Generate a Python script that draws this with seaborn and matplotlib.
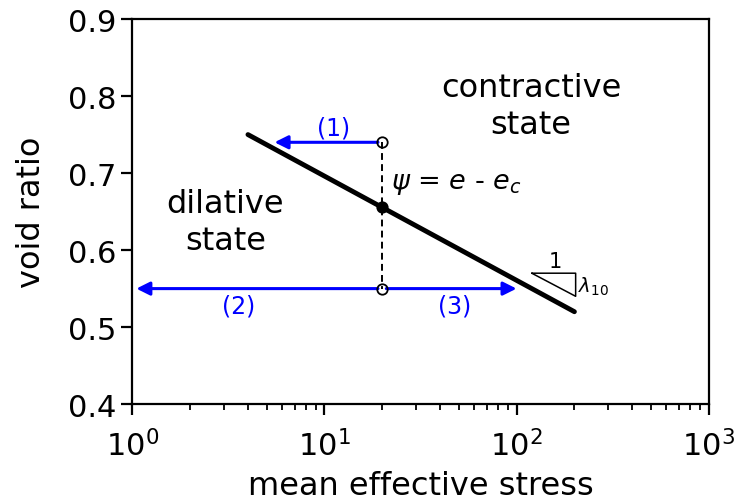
import matplotlib
matplotlib.use("Agg")
import matplotlib.pyplot as plt
import seaborn as sns
import pandas as pd

# critical state line
csl_p = [4, 200]
csl_e = [0.75, 0.52]

# state points at p = 20
state_p = [20, 20, 20]
state_e = [0.74, 0.6556, 0.55]
state_fill = ["none", "black", "none"]

# blue load paths: (label, start p, end p, e)
path_labels = ["(1)", "(2)", "(3)"]
path_start = [19.0, 19.0, 21.0]
path_end = [5.5, 1.05, 100]
path_e = [0.74, 0.55, 0.55]
label_p = [11.1, 3.56, 47.8]
label_e = [0.759, 0.528, 0.528]

# slope triangle
tri_p = [120, 203, 203, 120]
tri_e = [0.57, 0.57, 0.54, 0.57]

sns.set_theme(style="ticks")
plt.rcParams['font.family'] = ['DejaVu Sans']
plt.rcParams['text.color'] = 'black'
plt.rcParams['axes.labelcolor'] = 'black'
plt.rcParams['xtick.color'] = 'black'
plt.rcParams['ytick.color'] = 'black'

fig, ax = plt.subplots(figsize=(7.39, 5.02), dpi=100)

df = pd.DataFrame({"p": csl_p, "e": csl_e})
sns.lineplot(data=df, x="p", y="e", color="black", linewidth=3.5, ax=ax)

ax.plot([20, 20], [state_e[0], state_e[2]], color="black", linestyle=(0, (3.5, 2.2)),
        linewidth=1.4, zorder=1)
for p, e, fc in zip(state_p, state_e, state_fill):
    ax.plot(p, e, marker="o", markersize=7.5, markerfacecolor=fc,
            markeredgecolor="black", markeredgewidth=1.3, zorder=4)

for lab, s, t, e, lp, le in zip(path_labels, path_start, path_end, path_e, label_p, label_e):
    ax.annotate("", xy=(t, e), xytext=(s, e),
                arrowprops=dict(arrowstyle="-|>", color="blue", lw=2.2, mutation_scale=20,
                                shrinkA=0, shrinkB=0))
    ax.text(lp, le, lab, color="blue", fontsize=17, ha="center", va="center")

ax.plot(tri_p, tri_e, color="black", linewidth=1.1)
ax.text(160, 0.586, "1", fontsize=15, ha="center", va="center")
ax.text(210, 0.553, r"$\lambda_{10}$", fontsize=14, ha="left", va="center")

ax.text(119, 0.787, "contractive\nstate", fontsize=23, ha="center", va="center", linespacing=1.25)
ax.text(3.05, 0.637, "dilative\nstate", fontsize=23, ha="center", va="center", linespacing=1.25)
ax.text(22.3, 0.687, r"$\psi$ = $e$ - $e_c$", fontsize=19.5, ha="left", va="center")

ax.set_xscale("log")
ax.set_xlim(1, 1000)
ax.set_ylim(0.4, 0.9)
ax.set_yticks([0.4, 0.5, 0.6, 0.7, 0.8, 0.9])
ax.set_xlabel("mean effective stress", fontsize=23, labelpad=6)
ax.set_ylabel("void ratio", fontsize=23, labelpad=15)
ax.tick_params(axis="both", which="major", labelsize=22, width=1.6, length=8, direction="out")
ax.tick_params(axis="x", which="major", pad=10)
ax.tick_params(axis="x", which="minor", width=1.3, length=4.5)
for sp in ax.spines.values():
    sp.set_linewidth(1.6)
    sp.set_color("black")

fig.subplots_adjust(left=0.179, right=0.959, top=0.96, bottom=0.193)
fig.savefig("out.png", dpi=100)
